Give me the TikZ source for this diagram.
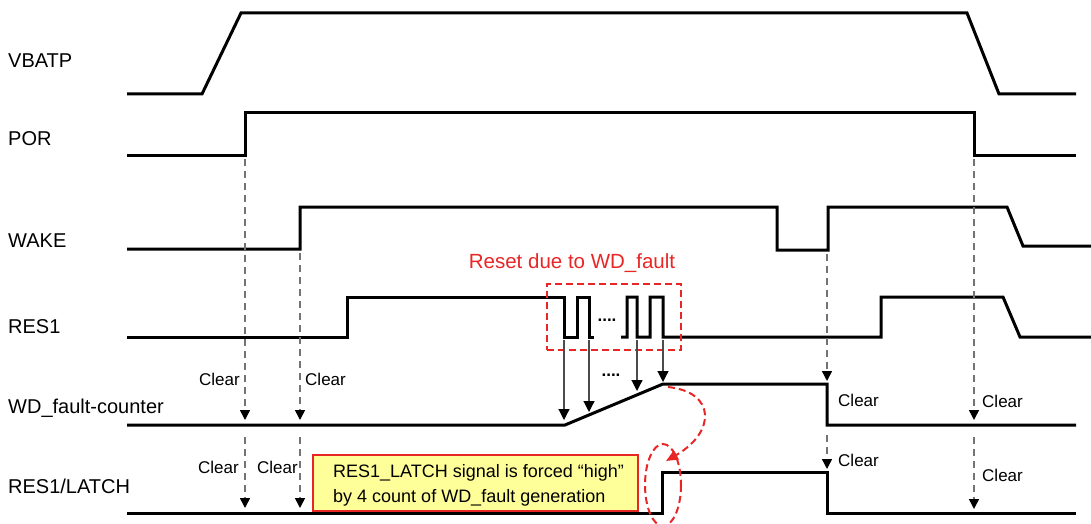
\documentclass[tikz,border=0pt]{standalone}
\usepackage{fontspec}
\setmainfont{Liberation Sans}
\usetikzlibrary{arrows.meta}
\definecolor{sigred}{RGB}{232,38,38}
\definecolor{dashgray}{RGB}{115,115,115}
\definecolor{noteyellow}{RGB}{255,255,153}
\tikzset{
  wave/.style={line width=3pt, line join=miter},
  siglabel/.style={anchor=base west, font=\fontsize{20}{24}\selectfont, inner sep=0pt},
  clearlbl/.style={font=\fontsize{17}{20}\selectfont, inner sep=0pt},
  clearline/.style={draw=dashgray, line width=1.5pt, dash pattern=on 7pt off 5pt,
    -{Triangle[length=10pt,width=10pt,black]}},
  pulsearrow/.style={draw=black!70, line width=1.2pt, -{Triangle[length=11pt,width=11pt,black]}},
  redbox/.style={draw=sigred, line width=2pt, dash pattern=on 7pt off 4pt},
  dotslbl/.style={anchor=base, font=\bfseries\fontsize{17}{20}\selectfont, inner sep=0pt},
  notebox/.style={draw=sigred, fill=noteyellow, line width=2.5pt, minimum width=325pt,
    minimum height=56pt, inner sep=0pt},
  notetext/.style={anchor=base west, inner sep=0pt, font=\fontsize{18}{22}\selectfont}
}
\begin{document}
\begin{tikzpicture}[x=1pt,y=-1pt]
\useasboundingbox (0,0) rectangle (1091,524);

% signal labels
\node[siglabel] (lvbatp) at (8,68) {VBATP};
\node[siglabel] (lpor) at (8,145) {POR};
\node[siglabel] (lwake) at (8,247) {WAKE};
\node[siglabel] (lres) at (8,333) {RES1};
\node[siglabel] (lwd) at (8,413) {WD\_fault-counter};
\node[siglabel] (llatch) at (8,493) {RES1/LATCH};

% waveforms
\draw[wave] (127,94) -- (202,94) -- (241,13) -- (967,13) -- (999,94) -- (1076,94);
\draw[wave] (127,155) -- (245,155) -- (245,113) -- (974,113) -- (974,155) -- (1076,155);
\draw[wave] (127,249) -- (300,249) -- (300,207) -- (777,207) -- (777,250) -- (828,250)
  -- (828,207) -- (1007,207) -- (1023,246) -- (1091,246);
\draw[wave] (127,337) -- (347,337) -- (347,297) -- (564,297) -- (564,337) -- (577,337)
  -- (577,297) -- (589,297) -- (589,337) -- (594,337);
\draw[wave] (621,337) -- (627,337) -- (627,297) -- (637,297) -- (637,337) -- (650,337)
  -- (650,297) -- (663,297) -- (663,337) -- (881,337) -- (881,297) -- (1003,297)
  -- (1020,337) -- (1091,337);
\draw[wave] (127,425) -- (565,425) -- (663,384) -- (827,384) -- (827,425) -- (1076,425);
\draw[wave] (127,513) -- (662,513) -- (662,472) -- (827,472) -- (827,513) -- (1076,513);

% dots
\node[dotslbl] (dots1) at (607,321) {....};
\node[dotslbl] (dots2) at (611,376) {....};

% red dashed box and title
\node[draw=sigred, line width=2pt, dash pattern=on 7pt off 4pt, minimum width=134pt,
  minimum height=66pt, inner sep=0pt] (pulsebox) at (614,317) {};
\node[anchor=base, font=\fontsize{20.5}{24}\selectfont, text=sigred, inner sep=0pt]
  (resetlbl) at (572,268) {Reset due to WD\_fault};

% pulse arrows
\coordinate (p1s) at (564,340); \coordinate (p1e) at (564,420);
\coordinate (p2s) at (589,340); \coordinate (p2e) at (589,412);
\coordinate (p3s) at (637,340); \coordinate (p3e) at (637,391);
\coordinate (p4s) at (663,340); \coordinate (p4e) at (663,382);
\draw[pulsearrow] (p1s) -- (p1e);
\draw[pulsearrow] (p2s) -- (p2e);
\draw[pulsearrow] (p3s) -- (p3e);
\draw[pulsearrow] (p4s) -- (p4e);

% clear arrows
\coordinate (a1s) at (245,159); \coordinate (a1e) at (245,420);
\coordinate (a2s) at (245,437); \coordinate (a2e) at (245,508);
\coordinate (b1s) at (300,253); \coordinate (b1e) at (300,420);
\coordinate (b2s) at (300,437); \coordinate (b2e) at (300,508);
\coordinate (c1s) at (827,254); \coordinate (c1e) at (827,381);
\coordinate (c2s) at (827,435); \coordinate (c2e) at (827,469);
\coordinate (d1s) at (974,159); \coordinate (d1e) at (974,420);
\coordinate (d2s) at (974,437); \coordinate (d2e) at (974,509);
\draw[clearline] (a1s) -- (a1e);
\draw[clearline] (a2s) -- (a2e);
\draw[clearline] (b1s) -- (b1e);
\draw[clearline] (b2s) -- (b2e);
\draw[clearline] (c1s) -- (c1e);
\draw[clearline] (c2s) -- (c2e);
\draw[clearline] (d1s) -- (d1e);
\draw[clearline] (d2s) -- (d2e);

% clear labels
\node[clearlbl, anchor=base east] (cl1) at (240,385) {Clear};
\node[clearlbl, anchor=base west] (cl2) at (305,385) {Clear};
\node[clearlbl, anchor=base east] (cl3) at (239,473) {Clear};
\node[clearlbl, anchor=base east] (cl4) at (298,473) {Clear};
\node[clearlbl, anchor=base west] (cl5) at (838,406) {Clear};
\node[clearlbl, anchor=base west] (cl6) at (838,466) {Clear};
\node[clearlbl, anchor=base west] (cl7) at (982,407) {Clear};
\node[clearlbl, anchor=base west] (cl8) at (982,481) {Clear};

% note box
\node[notebox] (note) at (475.5,483) {};
\node[notetext] (notel1) at (333,477) {RES1\_LATCH signal is forced “high”};
\node[notetext] (notel2) at (333,502) {by 4 count of WD\_fault generation};

% red curved arrow and ellipse
\coordinate (rs) at (668,387);
\coordinate (re) at (666,461);
\draw[redbox, -{Triangle[length=12pt,width=10pt,sigred]}] (rs) .. controls (716,392) and (716,432) .. (re);
\draw[redbox] (663,485) ellipse [x radius=18, y radius=41];
\end{tikzpicture}
\end{document}
